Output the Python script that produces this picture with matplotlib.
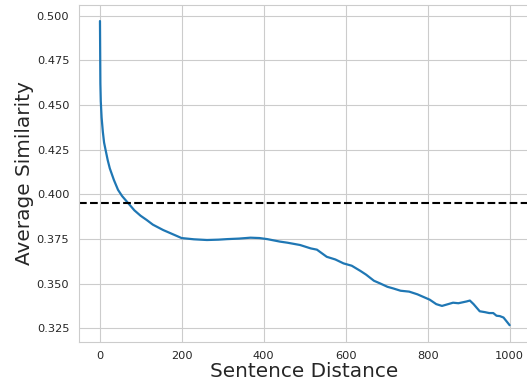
import matplotlib
matplotlib.use("Agg")
import matplotlib.pyplot as plt
import seaborn as sns

# values
distance = [1, 2, 3, 5, 8, 11, 15, 20, 25, 35, 45, 55, 70, 85, 100, 115, 130,
            155, 175, 200, 230, 262, 290, 311, 340, 368, 390, 409, 440, 458,
            489, 515, 530, 554, 575, 595, 615, 636, 650, 669, 685, 702, 716,
            734, 755, 775, 790, 805, 821, 835, 850, 862, 875, 885, 895, 903,
            912, 927, 940, 950, 960, 968, 976, 985, 992, 1000]
similarity = [0.497, 0.462, 0.452, 0.443, 0.435, 0.429, 0.4245, 0.419, 0.4145,
              0.408, 0.4025, 0.399, 0.395, 0.391, 0.388, 0.3856, 0.383, 0.380,
              0.378, 0.3755, 0.3748, 0.3744, 0.3746, 0.3749, 0.3752, 0.3757,
              0.3755, 0.3749, 0.3735, 0.3729, 0.3716, 0.3697, 0.369, 0.365,
              0.3635, 0.3613, 0.360, 0.3571, 0.355, 0.3516, 0.350, 0.3482,
              0.3473, 0.346, 0.3455, 0.344, 0.3425, 0.341, 0.3385, 0.3375,
              0.3385, 0.3393, 0.339, 0.3395, 0.340, 0.3405, 0.3385, 0.3345,
              0.334, 0.3335, 0.3335, 0.332, 0.3318, 0.331, 0.329, 0.3267]
baseline = 0.395

sns.set_style("whitegrid")

fig = plt.figure(figsize=(5.27, 3.83), dpi=100)
ax = fig.add_axes([0.15, 0.108, 0.856, 0.879])

ax.plot(distance, similarity, color="#1f77b4", linewidth=1.6)
ax.axhline(baseline, color="black", linestyle="--", linewidth=1.5)

ax.set_xlim(-50, 1050)
ax.set_ylim(0.3175, 0.506)
ax.set_xticks([0, 200, 400, 600, 800, 1000])
ax.set_yticks([0.325, 0.35, 0.375, 0.4, 0.425, 0.45, 0.475, 0.5])
ax.tick_params(labelsize=8.2)
ax.set_xlabel("Sentence Distance", fontsize=14.4, labelpad=0.5)
ax.set_ylabel("Average Similarity", fontsize=14.4, labelpad=2)

fig.savefig("out.png", dpi=100)
